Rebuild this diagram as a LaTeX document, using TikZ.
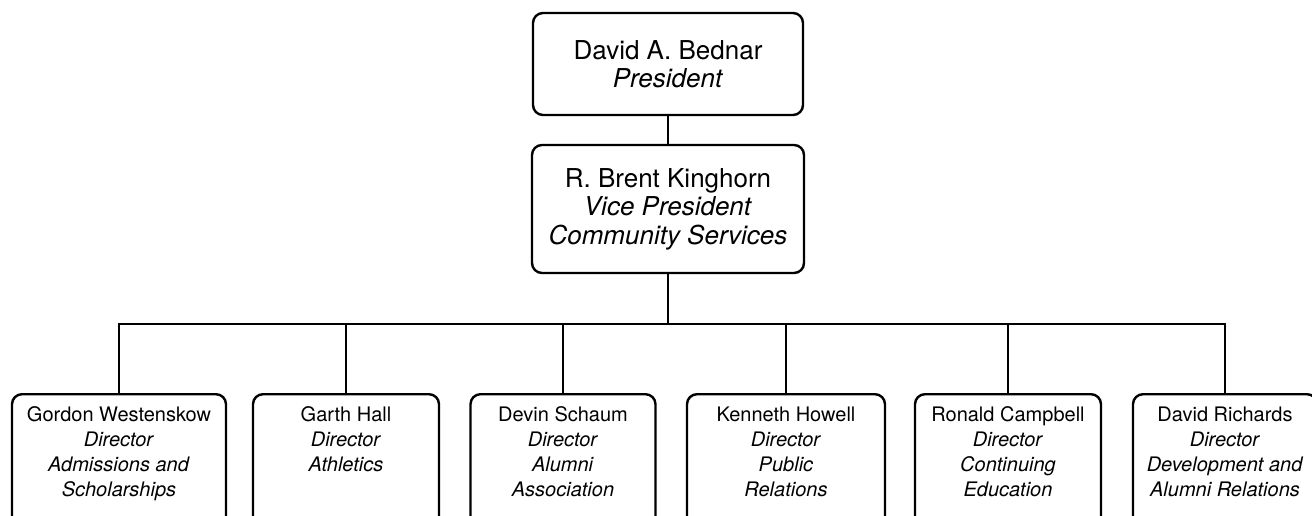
\documentclass[tikz,border=0pt]{standalone}
\usepackage{fontspec}
\setmainfont{TeX Gyre Heros}
\newcommand\dirtext[2]{\parbox[c][112pt][t]{#1}{\centering #2}}
\begin{document}
\begin{tikzpicture}[x=1pt,y=-1pt,
  line width=2.4pt,
  box/.style={draw, rounded corners=10pt, align=center, inner sep=0pt},
  topbox/.style={box, font=\fontsize{26}{28.5}\selectfont},
  dirbox/.style={box, anchor=north, inner xsep=0pt, inner ysep=12.4pt, font=\fontsize{20}{25}\selectfont},
  link/.style={line width=2.4pt}]
\useasboundingbox (0,0) rectangle (1312,516);
\clip (0,0) rectangle (1312,516);
\node[topbox, minimum width=270pt, minimum height=102pt] (pres) at (668,64) {David A. Bednar\\\textit{President}};
\node[topbox, minimum width=272pt, minimum height=128pt] (vp) at (668,209) {R. Brent Kinghorn\\\textit{Vice President}\\\textit{Community Services}};
\coordinate (bar) at (668,324);

\node[dirbox, minimum width=214pt] (d1) at (119,393) {\dirtext{210pt}{Gordon Westenskow\\\textit{Director}\\\textit{Admissions and}\\\textit{Scholarships}}};
\node[dirbox, minimum width=186pt] (d2) at (346,393) {\dirtext{182pt}{Garth Hall\\\textit{Director}\\\textit{Athletics}}};
\node[dirbox, minimum width=185pt] (d3) at (563,393) {\dirtext{181pt}{Devin Schaum\\\textit{Director}\\\textit{Alumni}\\\textit{Association}}};
\node[dirbox, minimum width=198pt] (d4) at (786,393) {\dirtext{194pt}{Kenneth Howell\\\textit{Director}\\\textit{Public}\\\textit{Relations}}};
\node[dirbox, minimum width=186pt] (d5) at (1008,393) {\dirtext{182pt}{Ronald Campbell\\\textit{Director}\\\textit{Continuing}\\\textit{Education}}};
\node[dirbox, minimum width=184pt] (d6) at (1225,393) {\dirtext{180pt}{David Richards\\\textit{Director}\\\textit{Development and}\\\textit{Alumni Relations}}};

\draw[link] (pres) -- (vp);
\draw[link] (vp.south) -- (bar);
\foreach \d in {d1,d2,d3,d4,d5,d6} \draw[link] (bar) -| (\d.north);
\end{tikzpicture}
\end{document}
